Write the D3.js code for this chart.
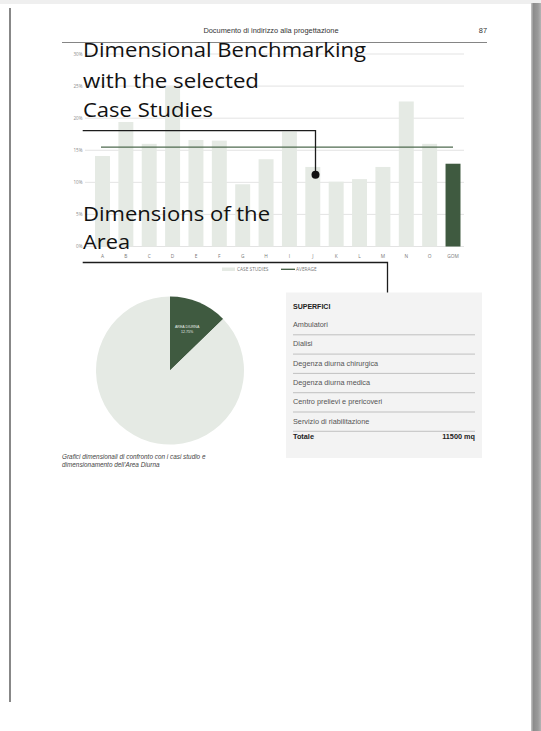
<!DOCTYPE html>
<html><head><meta charset="utf-8">
<script src="https://cdn.jsdelivr.net/npm/d3@7"></script>
<style>html,body{margin:0;padding:0;background:#fff;overflow:hidden}</style>
</head><body>
<svg id="c" width="541" height="731"></svg>
<script>
// ---- data ----
const categories = ["A","B","C","D","E","F","G","H","I","J","K","L","M","N","O","GOM"];
const shareValues = [14.1,19.4,16.0,24.9,16.6,16.5,9.7,13.6,17.9,12.4,10.1,10.5,12.4,22.6,16.0,12.9];
const averageValue = 15.5;
const yTicks = [0,5,10,15,20,25,30];
const legendLabels = ["CASE STUDIES","AVERAGE"];
const pieLabels = ["AREA DIURNA","ALTRO"];
const pieValues = [12.75, 87.25];
const tableTitle = "SUPERFICI";
const tableRows = ["Ambulatori","Dialisi","Degenza diurna chirurgica","Degenza diurna medica","Centro prelievi e prericoveri","Servizio di riabilitazione"];
const totalLabel = "Totale";
const totalValue = "11500 mq";
const headerText = "Documento di indirizzo alla progettazione";
const pageNumber = "87";
const titleLines = ["Dimensional Benchmarking","with the selected","Case Studies"];
const subtitleLines = ["Dimensions of the","Area"];
const captionLines = ["Grafici dimensionali di confronto con i casi studio e","dimensionamento dell'Area Diurna"];

const LIGHT = "#e5eae4", DARK = "#3f5a40";
const svg = d3.select("#c");

// ---- page frame ----
const defs = svg.append("defs");
const g1 = defs.append("linearGradient").attr("id","sh").attr("x1","0").attr("x2","1");
g1.append("stop").attr("offset","0").attr("stop-color","#c8c8c8");
g1.append("stop").attr("offset","0.25").attr("stop-color","#8c8c8c");
g1.append("stop").attr("offset","0.7").attr("stop-color","#9a9a9a");
g1.append("stop").attr("offset","1").attr("stop-color","#b4b4b4");
svg.append("rect").attr("x",0).attr("y",0).attr("width",541).attr("height",731).attr("fill","#fff");
svg.append("rect").attr("x",0).attr("y",0).attr("width",541).attr("height",4).attr("fill","#efefef");
svg.append("rect").attr("x",531).attr("y",3).attr("width",10).attr("height",728).attr("fill","url(#sh)");
svg.append("line").attr("x1",10).attr("x2",10).attr("y1",8).attr("y2",702).attr("stroke","#6a6a6a").attr("stroke-width",1.6);

// ---- header ----
svg.append("text").attr("x",271).attr("y",33).attr("text-anchor","middle")
  .attr("font-family","Liberation Sans, Arial, sans-serif").attr("font-size",7.4).attr("fill","#333").text(headerText);
svg.append("text").attr("x",487).attr("y",33).attr("text-anchor","end")
  .attr("font-family","Liberation Sans, Arial, sans-serif").attr("font-size",7.4).attr("fill","#333").text(pageNumber);
svg.append("line").attr("x1",62).attr("x2",487).attr("y1",42.5).attr("y2",42.5).attr("stroke","#777").attr("stroke-width",0.9);

// ---- bar chart ----
const y = d3.scaleLinear().domain([0,30]).range([246.5,54]);
const x = d3.scaleBand().domain(categories).range([90.8,464.7]).paddingInner(0.36).paddingOuter(0.18);
const gridX0 = 85, gridX1 = 464;

svg.append("g").selectAll("line").data(yTicks).join("line")
  .attr("x1",gridX0).attr("x2",gridX1).attr("y1",d=>y(d)).attr("y2",d=>y(d))
  .attr("stroke","#dcdcdc").attr("stroke-width",0.8);

const yAxis = svg.append("g").attr("transform",`translate(${gridX0-1},0)`)
  .call(d3.axisLeft(y).tickValues(yTicks).tickFormat(d=>d+"%").tickSize(0).tickPadding(1.5));
yAxis.select(".domain").remove();
yAxis.selectAll("text").attr("font-family","Open Sans, sans-serif").attr("font-size",4.6).attr("fill","#8a8a8a");

svg.append("g").selectAll("rect").data(categories).join("rect")
  .attr("x",d=>x(d)).attr("width",x.bandwidth())
  .attr("y",(d,i)=>y(shareValues[i])).attr("height",(d,i)=>y(0)-y(shareValues[i]))
  .attr("fill",(d,i)=>i===categories.length-1?DARK:LIGHT);

const xAxis = svg.append("g").attr("transform",`translate(0,${y(0)+5})`)
  .call(d3.axisBottom(x).tickSize(0).tickPadding(3));
xAxis.select(".domain").remove();
xAxis.selectAll("text").attr("font-family","Open Sans, sans-serif").attr("font-size",4.8).attr("fill","#777");

svg.append("line")
  .attr("x1",x(categories[0])+x.bandwidth()/2-1.5).attr("x2",x(categories[categories.length-1])+x.bandwidth()/2)
  .attr("y1",y(averageValue)).attr("y2",y(averageValue))
  .attr("stroke","#4e6a4f").attr("stroke-width",1.3);

// legend
const lg = svg.append("g").attr("font-family","Open Sans, sans-serif").attr("font-size",4.8).attr("fill","#777");
lg.append("rect").attr("x",222).attr("y",267.5).attr("width",13).attr("height",3.5).attr("fill",LIGHT);
lg.append("text").attr("x",237).attr("y",271).text(legendLabels[0]);
lg.append("line").attr("x1",281).attr("x2",295).attr("y1",269.3).attr("y2",269.3).attr("stroke",DARK).attr("stroke-width",1.3);
lg.append("text").attr("x",296).attr("y",271).text(legendLabels[1]);

// ---- overlay titles ----
const tf = "Open Sans, sans-serif";
const titleWidths = [283,176,130];
const titleBase = [57,87.5,116.5];
titleLines.forEach((t,i)=>{
  svg.append("text").attr("x",83).attr("y",titleBase[i]).attr("font-family",tf).attr("font-size",20.5)
    .attr("fill","#111").attr("textLength",titleWidths[i]).attr("lengthAdjust","spacingAndGlyphs").text(t);
});
const subWidths = [187,47];
const subBase = [220.5,248.5];
subtitleLines.forEach((t,i)=>{
  svg.append("text").attr("x",83).attr("y",subBase[i]).attr("font-family",tf).attr("font-size",20.5)
    .attr("fill","#111").attr("textLength",subWidths[i]).attr("lengthAdjust","spacingAndGlyphs").text(t);
});

// annotation connectors
const ann = svg.append("g").attr("fill","none").attr("stroke","#1c1c1c").attr("stroke-width",1.3);
ann.append("path").attr("d","M82.7,130.7 H315.5 V174.7");
svg.append("circle").attr("cx",315.5).attr("cy",174.7).attr("r",4).attr("fill","#111");
ann.append("path").attr("d","M82.7,262.5 H387.5 V305");
svg.append("circle").attr("cx",387.5).attr("cy",305).attr("r",4).attr("fill","#111");

// ---- pie ----
const pie = d3.pie().sort(null).value(d=>d)(pieValues);
const arc = d3.arc().innerRadius(0).outerRadius(74);
const pg = svg.append("g").attr("transform","translate(170,370.5)");
pg.selectAll("path").data(pie).join("path").attr("d",arc).attr("fill",(d,i)=>i===0?DARK:LIGHT);
const lblArc = d3.arc().innerRadius(44).outerRadius(44);
const c0 = lblArc.centroid(pie[0]);
const pl = pg.append("text").attr("text-anchor","middle").attr("font-family","Liberation Sans, Arial, sans-serif")
  .attr("font-size",3.6).attr("fill","#e8ece8");
pl.append("tspan").attr("x",c0[0]).attr("y",c0[1]-1.5).text(pieLabels[0]);
pl.append("tspan").attr("x",c0[0]).attr("y",c0[1]+3.5).text(d3.format(".2f")(pieValues[0])+"%");

// caption
captionLines.forEach((t,i)=>{
  svg.append("text").attr("x",62).attr("y",459+i*7.8).attr("font-family","Liberation Sans, Arial, sans-serif")
    .attr("font-style","italic").attr("font-size",6.4).attr("fill","#444").text(t);
});

// ---- table ----
const tg = svg.append("g").attr("font-family","Liberation Sans, Arial, sans-serif");
tg.append("rect").attr("x",286).attr("y",292.5).attr("width",196).attr("height",165.5).attr("fill","#f3f3f3");
const ry = d3.scaleLinear().domain([0,1]).range([327,346.3]);
tg.append("text").attr("x",293).attr("y",308.5).attr("font-size",7).attr("font-weight","bold").attr("fill","#222").text(tableTitle);
tableRows.forEach((r,i)=>{
  tg.append("text").attr("x",293).attr("y",ry(i)).attr("font-size",7.3).attr("fill","#555").text(r);
  tg.append("line").attr("x1",293).attr("x2",475).attr("y1",ry(i)+7.8).attr("y2",ry(i)+7.8).attr("stroke","#aaa").attr("stroke-width",0.7);
});
tg.append("text").attr("x",293).attr("y",ry(tableRows.length)-3.5).attr("font-size",7.3).attr("font-weight","bold").attr("fill","#222").text(totalLabel);
tg.append("text").attr("x",475).attr("y",ry(tableRows.length)-3.5).attr("text-anchor","end").attr("font-size",7.3).attr("font-weight","bold").attr("fill","#222").text(totalValue);
</script>
</body></html>
